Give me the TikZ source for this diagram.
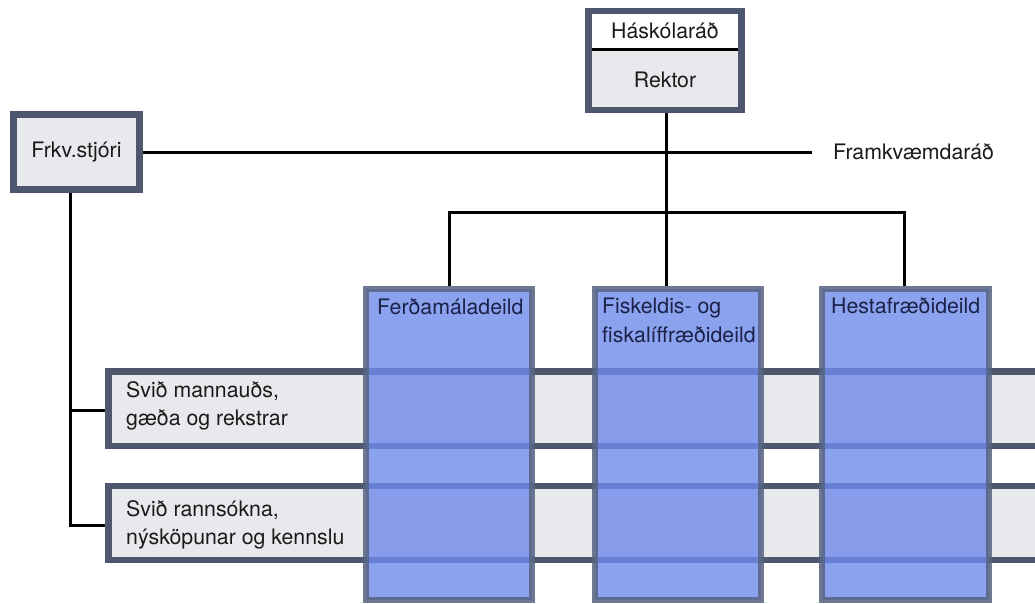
\documentclass[tikz,border=0pt]{standalone}
\usepackage{fontspec}
\setmainfont{TeX Gyre Heros}
\definecolor{bord}{HTML}{4D586F}
\definecolor{boxgrey}{HTML}{E8E9EC}
\definecolor{colblue}{HTML}{6F8BEC}
\definecolor{colbord}{HTML}{566380}
\definecolor{txt}{HTML}{1A1A1A}
\definecolor{coltxt}{HTML}{1B2148}
\begin{document}
\begin{tikzpicture}[x=1pt,y=-1pt,
  box/.style={draw=bord, line width=6.5pt, fill=boxgrey, inner sep=0pt,
    font=\fontsize{21.3}{28.5}\selectfont, text=txt},
  colbox/.style={draw=colbord, line width=6pt, fill=colblue, fill opacity=0.8, draw opacity=0.85, inner sep=0pt},
  conn/.style={line width=3pt, black},
  lbl/.style={font=\fontsize{21.3}{28.5}\selectfont, text=txt, inner sep=0pt, align=left},
  collbl/.style={lbl, text=coltxt}]
\useasboundingbox (0,0) rectangle (1035,603);
\clip (0,0) rectangle (1035,603);
\fill[white] (0,0) rectangle (1035,603);

% top box
\node[fill=boxgrey, minimum width=153pt, minimum height=99pt, inner sep=0pt] (rekbox) at (665,60.5) {};
\node[fill=white, minimum width=153pt, minimum height=38.5pt, inner sep=0pt, anchor=north,
      font=\fontsize{21.3}{28.5}\selectfont, text=txt] (hask) at (rekbox.north) {Háskólaráð};
\draw[line width=2.5pt, black] (hask.south west) -- (hask.south east);
\node[lbl] (rektor) at (665,80) {Rektor};
\node[draw=bord, line width=6.5pt, minimum width=153pt, minimum height=99pt, inner sep=0pt] (rekframe) at (665,60.5) {};

% Frkv box
\node[box, minimum width=126pt, minimum height=75pt] (frkv) at (76.5,152) {Frkv.stjóri};
\coordinate (fend) at (812,152);
\node[lbl, anchor=west] (fram) at (833,152) {Framkvæmdaráð};

% bars
\node[box, minimum width=951.5pt, minimum height=74.5pt] (svid1) at (584.25,408.75) {};
\node[box, minimum width=951.5pt, minimum height=74pt] (svid2) at (584.25,523) {};

% columns
\node[colbox, minimum width=166pt, minimum height=311pt] (ferd) at (449,444.5) {};
\node[colbox, minimum width=166pt, minimum height=311pt] (fisk) at (678,444.5) {};
\node[colbox, minimum width=167pt, minimum height=311pt] (hesta) at (905.5,444.5) {};

% connectors
\coordinate (j) at (666.5,212);
\coordinate (jl) at (449,212);
\coordinate (jr) at (904,212);
\draw[conn] (rekframe.south -| j) -- (j);
\draw[conn] (jl |- ferd.north) -- (jl) -- (jr) -- (jr |- hesta.north);
\draw[conn] (j) -- (j |- fisk.north);
\draw[conn] (frkv.east) -- (fend);
\coordinate (b1) at (70.5,410.5);
\coordinate (b2) at (70.5,525);
\draw[conn] (frkv.south -| b1) -- (b2) -- (b2 -| svid2.west);
\draw[conn] (b1) -- (b1 -| svid1.west);

% texts
\node[lbl, anchor=north west] (t1) at (126,381) {Svið mannauðs,\\gæða og rekstrar};
\node[lbl, anchor=north west] (t2) at (126,500) {Svið rannsókna,\\nýsköpunar og kennslu};
\node[collbl, anchor=north west] (c1) at (377,298) {Ferðamáladeild};
\node[collbl, anchor=north west] (c2) at (602,298) {Fiskeldis- og\\fiskalíffræðideild};
\node[collbl, anchor=north west] (c3) at (831,297) {Hestafræðideild};
\end{tikzpicture}
\end{document}
